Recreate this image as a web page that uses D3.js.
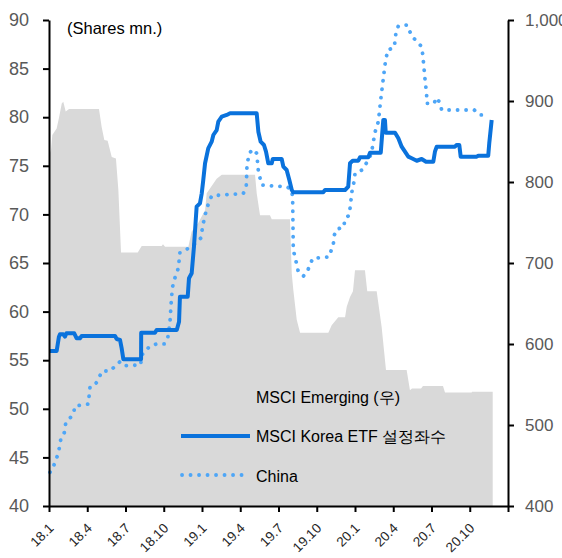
<!DOCTYPE html>
<html><head><meta charset="utf-8">
<script src="https://cdn.jsdelivr.net/npm/d3@7"></script>
<style>
body{margin:0;background:#fff}
text{font-family:"Liberation Sans",Arial,sans-serif}
</style>
</head><body>
<svg id="c" width="562" height="558"></svg>
<script>
// X positions are months since Jan 2018 (0 = 18.1)
const xTickMonths = [0,3,6,9,12,15,18,21,24,27,30,33];
const xTickLabels = ["18.1","18.4","18.7","18.10","19.1","19.4","19.7","19.10","20.1","20.4","20.7","20.10"];
const leftTicks = [40,45,50,55,60,65,70,75,80,85,90];
const rightTicks = [400,500,600,700,800,900,1000];

// MSCI Emerging (right axis)
const emergingMonth = [0.08,0.16,0.26,0.6,0.78,1.0,1.12,1.31,1.57,3.92,4.13,4.34,4.6,4.92,5.25,5.44,5.65,6.96,7.27,8.84,8.94,9.1,10.93,11.19,11.69,12.24,12.37,13.15,13.55,16.16,16.29,16.55,17.33,17.47,18.9,19.04,19.16,19.43,19.69,21.91,22.17,22.69,23.22,23.35,23.61,23.84,24.0,24.78,24.96,25.7,26.09,26.43,28.05,28.31,28.47,29.18,29.33,30.9,31.06,33.15,33.18,34.8];
const emergingValue = [836,840,858,866,879,897,899,887,890,890,868,852,851,831,829,790,713,713,721,721,723,720,720,739,749,765,786,804,809,809,786,759,759,754,754,687,667,630,614,614,623,633,633,646,658,665,691,691,665,665,621,568,568,543,545,545,548,548,540,540,541,541];

// MSCI Korea ETF shares outstanding (left axis)
const koreaMonth = [0,0.6,0.78,0.86,1.12,1.25,1.37,1.98,2.17,2.43,2.56,5.18,5.31,5.57,5.7,5.83,7.22,7.23,8.31,8.44,10.02,10.2,10.27,10.88,10.98,11.19,11.37,11.58,11.84,11.98,12.1,12.24,12.49,12.76,12.89,13.15,13.28,13.55,13.94,14.2,16.29,16.42,16.6,16.86,17.02,17.2,17.47,17.55,18.25,18.38,18.64,18.85,19.04,19.16,21.51,21.65,23.22,23.47,23.61,23.82,24.26,24.39,25.04,25.18,26.02,26.14,26.22,26.35,26.41,27.14,27.4,27.66,27.92,28.18,28.45,28.84,29.23,29.57,30.14,30.27,30.41,31.84,31.97,32.18,32.29,33.55,33.67,34.45,34.53,34.72];
const koreaValue = [55.95,55.95,57.42,57.66,57.66,57.42,57.77,57.77,57.25,57.25,57.49,57.49,57.18,57.08,56.22,55.09,55.09,57.83,57.83,58.11,58.11,58.96,61.53,61.53,63.43,63.94,66.68,70.79,71.14,72.17,73.54,75.26,76.8,77.48,78.17,78.68,79.54,80.05,80.23,80.4,80.4,78.51,77.48,77.14,76.45,75.26,75.26,75.7,75.7,74.91,74.57,73.54,72.51,72.27,72.27,72.51,72.51,72.85,75.26,75.52,75.52,75.87,75.87,76.35,76.35,78.4,79.71,79.71,78.4,78.4,77.83,76.97,76.45,75.94,75.77,75.52,75.7,75.42,75.42,76.45,76.97,76.97,77.14,77.14,75.94,75.94,76.04,76.04,77.32,79.71];

// China (left axis)
const chinaMonth = [0.08,0.34,0.73,0.94,1.2,1.31,1.91,2.04,3.08,3.22,3.66,4.18,4.78,5.57,5.96,7.19,7.27,7.92,8.45,9.04,9.31,9.49,9.57,9.67,9.8,10.14,10.27,11.19,11.89,12.1,12.37,12.76,15.24,15.47,15.53,15.71,15.98,16.29,16.42,16.68,18.69,19.04,19.11,19.16,19.43,19.55,19.96,20.27,20.47,20.68,21.96,22.3,22.38,22.59,23.1,23.22,23.55,23.76,23.95,24.0,24.55,24.78,25.12,25.33,25.57,25.83,26.04,26.35,26.56,27.08,27.22,27.4,28.08,28.45,29.18,29.31,29.49,29.62,29.62,30.22,30.35,30.61,30.8,33.36,33.83,34.53];
const chinaValue = [43.47,44.04,45.42,46.97,47.54,48.51,49.47,50.29,50.49,52.27,52.55,53.89,53.89,54.85,54.43,54.51,55.53,56.46,56.67,56.67,57.25,58.96,60.68,62.4,63.18,64.45,66.06,66.68,67.54,69.08,70.63,71.92,72.15,72.85,75.08,76.29,76.7,76.29,74.47,73.02,72.82,72.51,71.58,66.34,64.87,64.11,63.66,64.18,64.79,65.48,65.62,66.95,67.88,68.5,68.65,69.53,69.94,72.34,73.54,74.23,74.57,75.08,75.67,76.63,78.46,79.54,82.05,85.37,86.91,87.19,88.8,89.38,89.49,88.35,87.33,86.5,83.93,82.36,81.43,81.43,82.01,81.6,80.74,80.74,80.23,80.23];

const legendLabels = ["MSCI Emerging (우)","MSCI Korea ETF 설정좌수","China"];
const unitLabel = "(Shares mn.)";

const svg = d3.select("#c");
const L = 49, R = 508, T = 20, B = 506;
const x = d3.scaleLinear().domain([0,36]).range([L,R]);
const yL = d3.scaleLinear().domain([40,90]).range([B,T]);
const yR = d3.scaleLinear().domain([400,1000]).range([B,T]);

const zip = (a,b)=>a.map((v,i)=>[v,b[i]]);

// area
svg.append("path")
  .datum(zip(emergingMonth, emergingValue))
  .attr("fill","#d9d9d9")
  .attr("d", d3.area().x(d=>x(d[0])).y0(yR(400)).y1(d=>yR(d[1])));

// China dotted
svg.append("path")
  .datum(zip(chinaMonth, chinaValue))
  .attr("fill","none").attr("stroke","#4ea6f7").attr("stroke-width",3.8)
  .attr("stroke-linecap","round").attr("stroke-dasharray","0.1 8.4")
  .attr("d", d3.line().x(d=>x(d[0])).y(d=>yL(d[1])));

// Korea line
svg.append("path")
  .datum(zip(koreaMonth, koreaValue))
  .attr("fill","none").attr("stroke","#0a72dc").attr("stroke-width",4)
  .attr("stroke-linejoin","round")
  .attr("d", d3.line().x(d=>x(d[0])).y(d=>yL(d[1])));

// axes
function styleAxis(g, color, size){
  g.selectAll(".domain").attr("stroke","#000").attr("stroke-width",2);
  g.selectAll(".tick line").attr("stroke","#000").attr("stroke-width",2);
  g.selectAll(".tick text").attr("fill",color).style("font-size",size+"px").style("font-family","'Liberation Sans',Arial,sans-serif");
}
const gL = svg.append("g").attr("transform",`translate(${L},0)`)
  .call(d3.axisLeft(yL).tickValues(leftTicks).tickSize(6).tickSizeOuter(0).tickPadding(14));
styleAxis(gL,"#595959",18);
const gR = svg.append("g").attr("transform",`translate(${R},0)`)
  .call(d3.axisRight(yR).tickValues(rightTicks).tickSize(6).tickSizeOuter(0).tickPadding(11).tickFormat(d3.format(",")));
styleAxis(gR,"#595959",17);
const gB = svg.append("g").attr("transform",`translate(0,${B})`)
  .call(d3.axisBottom(x).tickValues(xTickMonths.concat([36])).tickSize(6).tickSizeOuter(0)
    .tickFormat((d,i)=> i < xTickLabels.length ? xTickLabels[i] : ""));
styleAxis(gB,"#262626",13.5);
gB.selectAll(".tick text")
  .attr("text-anchor","end").attr("dy",null).attr("y",null)
  .attr("transform","translate(5,23) rotate(-45)");

// unit label
svg.append("text").attr("x",67).attr("y",34).style("font-size","16.5px").attr("fill","#000").text(unitLabel);

// legend
const lg = svg.append("g");
const rowY = [403,442,482];
lg.selectAll("text").data(legendLabels).join("text")
  .attr("x",256).attr("y",(d,i)=>rowY[i]).style("font-size","16px").attr("fill","#000").text(d=>d);
lg.append("line").attr("x1",181).attr("x2",250).attr("y1",436).attr("y2",436)
  .attr("stroke","#0a72dc").attr("stroke-width",4);
lg.append("line").attr("x1",182).attr("x2",246).attr("y1",475).attr("y2",475)
  .attr("stroke","#4ea6f7").attr("stroke-width",3.8).attr("stroke-linecap","round").attr("stroke-dasharray","0.1 8.4");
</script>
</body></html>
